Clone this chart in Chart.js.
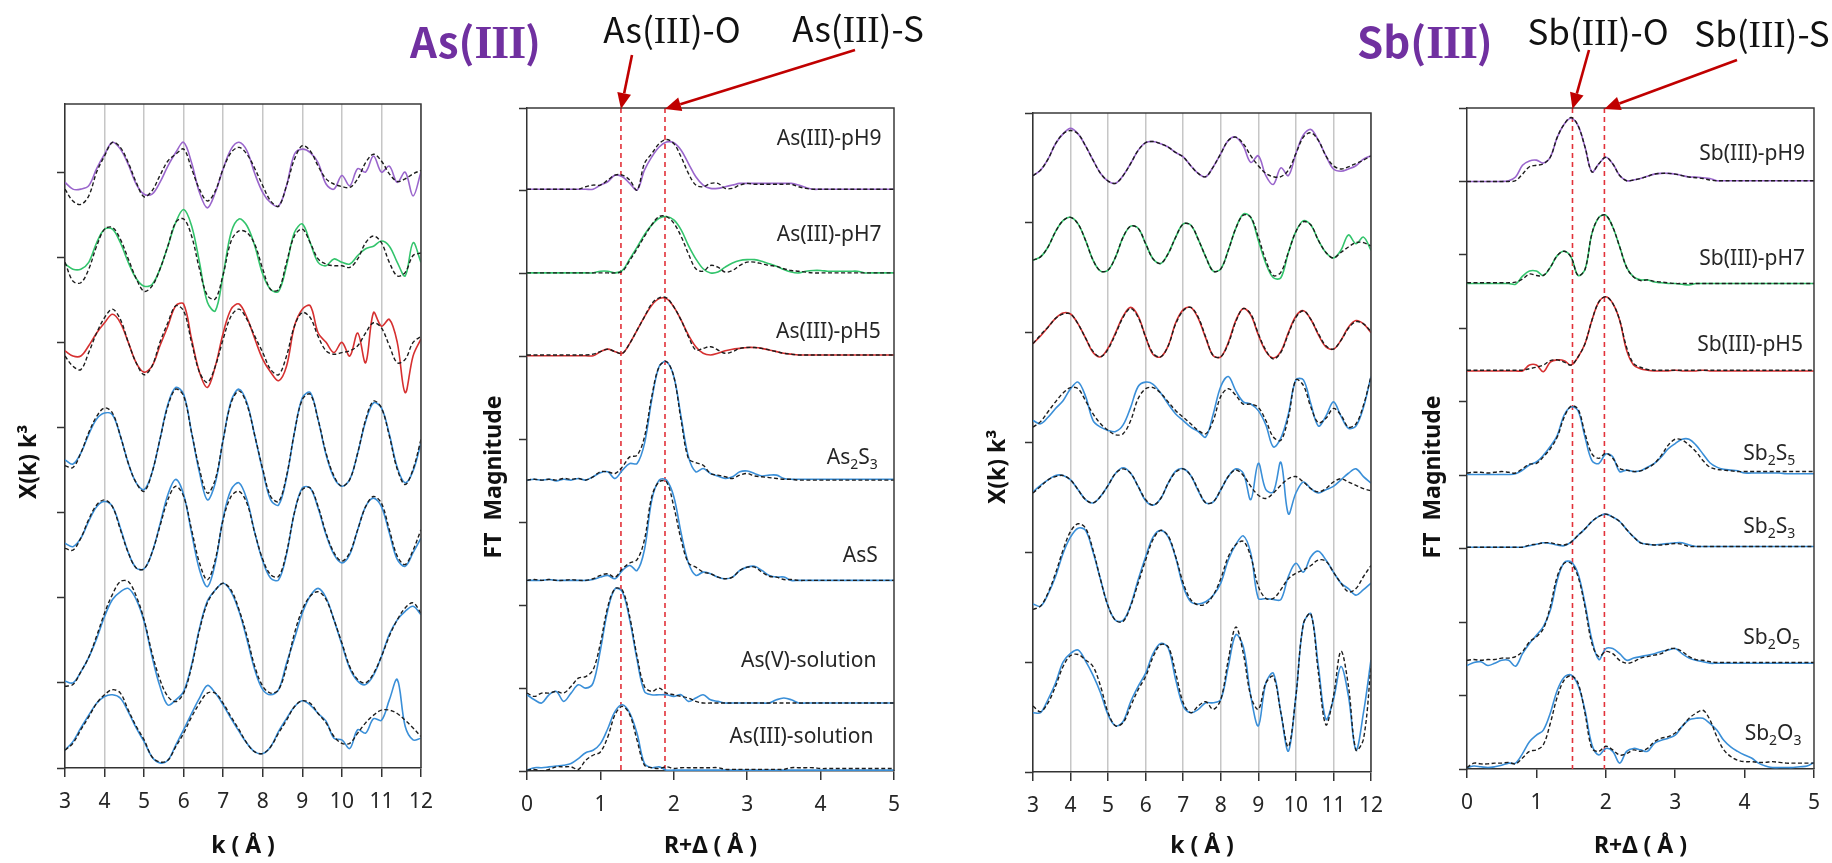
<!DOCTYPE html>
<html>
<head>
<meta charset="utf-8">
<script src="https://cdn.jsdelivr.net/npm/chart.js@4.4.0/dist/chart.umd.min.js"></script>
<style>
  html, body { margin: 0; padding: 0; background: #fff; }
  body { width: 1832px; height: 863px; position: relative; overflow: hidden; }
  canvas { position: absolute; top: 0; }
  .big { position: absolute; top: 19px; font-family: "Noto Sans CJK KR", "Noto Sans", sans-serif;
         font-weight: 700; font-size: 42px; line-height: 42px; color: #7030a0; white-space: nowrap; }
  .big .rn { font-family: "Liberation Serif", serif; font-size: 46px; letter-spacing: -1px; }
</style>
</head>
<body>
<canvas id="asK" width="445" height="863" style="left:0px"></canvas>
<canvas id="asR" width="475" height="863" style="left:460px"></canvas>
<canvas id="sbK" width="435" height="863" style="left:960px"></canvas>
<canvas id="sbR" width="432" height="863" style="left:1400px"></canvas>
<div class="big" style="left:410px">As(<span class="rn">III</span>)</div>
<div class="big" style="left:1357px">Sb(<span class="rn">III</span>)</div>
<script>
// ---- x grids ----
const kGrid = [3.0,3.2,3.4,3.6,3.8,4.0,4.2,4.4,4.6,4.8,5.0,5.2,5.4,5.6,5.8,6.0,6.2,6.4,6.6,6.8,7.0,7.2,7.4,7.6,7.8,
  8.0,8.2,8.4,8.6,8.8,9.0,9.2,9.4,9.6,9.8,10.0,10.2,10.4,10.6,10.8,11.0,11.2,11.4,11.6,11.8,12.0];
const rGrid = [0.0,0.1,0.2,0.3,0.4,0.5,0.6,0.7,0.8,0.9,1.0,1.1,1.2,1.3,1.4,1.5,1.6,1.7,1.8,1.9,2.0,2.1,2.2,2.3,2.4,
  2.5,2.6,2.7,2.8,2.9,3.0,3.1,3.2,3.3,3.4,3.5,3.6,3.7,3.8,3.9,4.0,4.1,4.2,4.3,4.4,4.5,4.6,4.7,4.8,4.9,5.0];

// ---- As(III) chi(k)k^3, stacked ----
const asPh9Data = [6.88,6.80,6.80,6.84,7.04,7.21,7.35,7.27,7.09,6.86,6.74,6.74,6.88,7.07,7.23,7.35,7.11,6.76,6.58,6.76,
  7.04,7.27,7.35,7.25,6.98,6.76,6.64,6.60,6.84,7.21,7.27,7.23,7.11,6.86,6.80,6.96,6.84,7.04,7.00,7.19,7.00,7.07,6.88,7.00,6.72,7.00];
const asPh9Fit = [6.80,6.66,6.62,6.72,7.00,7.19,7.35,7.29,7.11,6.88,6.71,6.78,6.96,7.13,7.21,7.27,7.04,6.80,6.66,6.78,
  7.04,7.23,7.29,7.21,7.04,6.84,6.66,6.60,6.84,7.15,7.31,7.25,7.07,6.92,6.86,6.83,6.82,6.92,7.11,7.21,7.13,6.98,6.89,6.92,6.98,7.02];
const asPh7Data = [5.92,5.86,5.86,5.94,6.17,6.33,6.33,6.17,5.94,5.75,5.66,5.68,5.86,6.13,6.41,6.56,6.37,5.94,5.47,5.37,
  5.80,6.29,6.45,6.37,6.13,5.80,5.62,5.60,5.90,6.29,6.39,6.17,5.94,5.90,5.98,5.94,5.92,6.02,6.10,6.13,6.19,6.13,5.94,5.78,6.17,5.94];
const asPh7Fit = [5.94,5.72,5.70,5.86,6.13,6.33,6.35,6.21,5.98,5.75,5.60,5.66,5.86,6.13,6.41,6.45,6.25,5.86,5.55,5.51,
  5.80,6.19,6.31,6.29,6.15,5.86,5.62,5.62,5.94,6.25,6.33,6.17,5.98,5.92,5.90,5.90,5.88,5.98,6.17,6.25,6.17,5.94,5.78,5.82,6.02,6.05];
const asPh5Data = [4.90,4.84,4.84,4.96,5.11,5.23,5.33,5.23,5.00,4.76,4.65,4.72,4.96,5.19,5.43,5.45,5.04,4.65,4.47,4.72,
  5.11,5.39,5.45,5.29,5.04,4.80,4.65,4.55,4.72,5.19,5.39,5.43,5.11,5.00,4.88,5.00,4.84,5.11,4.76,5.35,5.19,5.27,5.00,4.41,4.84,5.04];
const asPh5Fit = [4.84,4.72,4.68,4.88,5.11,5.29,5.39,5.27,5.00,4.76,4.62,4.72,5.00,5.23,5.43,5.37,5.00,4.65,4.53,4.72,
  5.04,5.31,5.39,5.27,5.07,4.88,4.68,4.62,4.84,5.19,5.35,5.29,5.07,4.90,4.86,4.88,4.90,4.96,5.11,5.23,5.17,4.96,4.76,4.80,5.00,5.07];
const asAs2S3Data = [3.62,3.57,3.70,3.92,4.10,4.17,4.15,3.90,3.58,3.35,3.27,3.47,3.86,4.27,4.47,4.39,3.94,3.47,3.15,3.35,
  3.86,4.31,4.45,4.29,3.90,3.49,3.15,3.09,3.41,3.94,4.35,4.41,4.09,3.68,3.41,3.31,3.39,3.70,4.07,4.29,4.23,3.92,3.53,3.35,3.49,3.82];
const asAs2S3Fit = [3.55,3.53,3.70,3.94,4.13,4.23,4.17,3.90,3.58,3.35,3.25,3.47,3.86,4.25,4.45,4.37,3.94,3.51,3.23,3.39,
  3.86,4.29,4.43,4.27,3.90,3.51,3.19,3.13,3.43,3.94,4.33,4.39,4.09,3.70,3.43,3.31,3.39,3.70,4.09,4.31,4.23,3.90,3.51,3.33,3.51,3.86];
const asAsSData = [2.64,2.60,2.70,2.90,3.07,3.13,3.07,2.82,2.53,2.35,2.34,2.53,2.86,3.21,3.39,3.21,2.76,2.33,2.13,2.41,
  2.94,3.27,3.35,3.15,2.76,2.43,2.23,2.21,2.51,3.00,3.29,3.29,3.05,2.74,2.51,2.41,2.51,2.80,3.07,3.17,3.07,2.76,2.45,2.37,2.53,2.70];
const asAsSFit = [2.58,2.56,2.70,2.92,3.09,3.15,3.07,2.80,2.53,2.35,2.34,2.53,2.84,3.15,3.31,3.19,2.80,2.41,2.21,2.45,
  2.92,3.19,3.25,3.11,2.76,2.45,2.27,2.25,2.53,3.00,3.27,3.29,3.07,2.76,2.53,2.43,2.53,2.80,3.07,3.19,3.11,2.80,2.49,2.39,2.56,2.80];
const asAsVData = [1.02,1.00,1.13,1.30,1.52,1.78,1.98,2.07,2.11,1.98,1.72,1.31,0.96,0.74,0.80,0.90,1.21,1.64,1.96,2.09,
  2.17,2.07,1.84,1.51,1.15,0.92,0.86,0.92,1.23,1.52,1.82,2.02,2.11,2.00,1.74,1.45,1.17,1.02,0.98,1.09,1.31,1.57,1.74,1.84,1.90,1.80];
const asAsVFit = [0.96,0.98,1.13,1.30,1.55,1.82,2.04,2.19,2.19,2.02,1.74,1.35,1.04,0.84,0.78,0.88,1.19,1.62,1.94,2.09,
  2.17,2.09,1.86,1.55,1.19,0.96,0.88,0.92,1.19,1.58,1.86,2.02,2.07,1.98,1.74,1.47,1.19,1.04,1.00,1.11,1.31,1.55,1.74,1.88,1.94,1.82];
const asAsIIIData = [0.21,0.31,0.47,0.62,0.76,0.84,0.86,0.82,0.66,0.47,0.31,0.13,0.06,0.09,0.27,0.45,0.64,0.82,0.97,0.88,
  0.74,0.58,0.43,0.29,0.19,0.17,0.25,0.43,0.58,0.72,0.79,0.74,0.64,0.55,0.35,0.33,0.23,0.45,0.41,0.58,0.56,0.80,1.04,0.49,0.33,0.35];
const asAsIIIFit = [0.21,0.29,0.45,0.60,0.76,0.86,0.92,0.88,0.68,0.49,0.33,0.13,0.07,0.09,0.25,0.41,0.60,0.76,0.88,0.88,
  0.76,0.60,0.45,0.29,0.19,0.17,0.25,0.41,0.56,0.72,0.79,0.76,0.64,0.53,0.37,0.29,0.29,0.41,0.53,0.62,0.68,0.68,0.64,0.56,0.47,0.37];

// ---- As(III) FT magnitude, stacked ----
const asFtPh9Data = [7.02,7.02,7.02,7.02,7.02,7.02,7.02,7.02,7.02,7.02,7.07,7.11,7.19,7.17,7.09,7.01,7.25,7.41,7.53,7.59,
  7.58,7.49,7.33,7.17,7.07,7.03,7.03,7.05,7.07,7.09,7.09,7.09,7.09,7.09,7.09,7.09,7.09,7.07,7.04,7.02,
  7.02,7.02,7.02,7.02,7.02,7.02,7.02,7.02,7.02,7.02,7.02];
const asFtPh9Fit = [7.02,7.02,7.02,7.02,7.02,7.02,7.02,7.02,7.05,7.07,7.07,7.13,7.19,7.19,7.13,7.01,7.33,7.45,7.57,7.62,
  7.57,7.41,7.21,7.07,7.05,7.09,7.09,7.03,7.03,7.07,7.09,7.08,7.08,7.08,7.08,7.08,7.08,7.05,7.03,7.02,
  7.02,7.02,7.02,7.02,7.02,7.02,7.02,7.02,7.02,7.02,7.02];
const asFtPh7Data = [6.01,6.01,6.01,6.01,6.01,6.01,6.01,6.01,6.01,6.01,6.03,6.03,6.01,6.04,6.18,6.32,6.47,6.59,6.67,6.69,
  6.65,6.53,6.34,6.18,6.06,6.01,6.02,6.08,6.13,6.16,6.17,6.17,6.15,6.12,6.09,6.05,6.02,6.01,6.03,6.04,
  6.04,6.03,6.03,6.03,6.03,6.03,6.01,6.01,6.01,6.01,6.01];
const asFtPh7Fit = [6.01,6.01,6.01,6.01,6.01,6.01,6.01,6.01,6.01,6.01,6.01,6.01,6.01,6.03,6.16,6.30,6.45,6.59,6.69,6.69,
  6.61,6.45,6.24,6.06,6.03,6.10,6.08,6.02,6.04,6.10,6.14,6.14,6.12,6.10,6.09,6.06,6.04,6.03,6.02,6.01,
  6.01,6.01,6.01,6.01,6.01,6.01,6.01,6.01,6.01,6.01,6.01];
const asFtPh5Data = [5.01,5.01,5.01,5.01,5.01,5.01,5.01,5.01,5.01,5.01,5.06,5.09,5.06,5.04,5.16,5.32,5.48,5.62,5.70,5.70,
  5.60,5.44,5.26,5.12,5.04,5.02,5.04,5.07,5.09,5.10,5.11,5.11,5.10,5.08,5.06,5.04,5.03,5.02,5.02,5.02,
  5.02,5.02,5.02,5.02,5.02,5.02,5.02,5.02,5.02,5.02,5.02];
const asFtPh5Fit = [5.02,5.02,5.02,5.02,5.02,5.02,5.02,5.02,5.02,5.03,5.06,5.09,5.06,5.04,5.16,5.32,5.48,5.64,5.71,5.71,
  5.60,5.44,5.24,5.08,5.10,5.12,5.08,5.04,5.06,5.10,5.11,5.11,5.10,5.08,5.06,5.04,5.03,5.02,5.02,5.02,
  5.02,5.02,5.02,5.02,5.02,5.02,5.02,5.02,5.02,5.02,5.02];
const asFtAs2S3Data = [3.51,3.52,3.51,3.52,3.50,3.52,3.51,3.53,3.51,3.55,3.60,3.61,3.53,3.63,3.71,3.71,3.95,4.48,4.88,4.94,
  4.76,4.27,3.79,3.61,3.65,3.59,3.56,3.53,3.55,3.61,3.62,3.59,3.56,3.57,3.57,3.53,3.52,3.52,3.52,3.52,
  3.52,3.52,3.52,3.52,3.52,3.52,3.52,3.52,3.52,3.52,3.52];
const asFtAs2S3Fit = [3.51,3.52,3.51,3.52,3.51,3.53,3.52,3.53,3.51,3.55,3.61,3.61,3.59,3.67,3.79,3.81,4.03,4.52,4.88,4.94,
  4.76,4.23,3.77,3.72,3.69,3.59,3.57,3.55,3.53,3.57,3.59,3.56,3.55,3.54,3.53,3.52,3.52,3.51,3.51,3.51,
  3.51,3.51,3.51,3.51,3.51,3.51,3.51,3.51,3.51,3.51,3.51];
const asFtAsSData = [2.30,2.30,2.30,2.31,2.30,2.30,2.30,2.30,2.30,2.31,2.34,2.36,2.32,2.42,2.48,2.42,2.67,3.27,3.51,3.51,
  3.31,2.87,2.51,2.36,2.40,2.38,2.34,2.32,2.34,2.42,2.46,2.47,2.42,2.36,2.34,2.34,2.30,2.30,2.30,2.30,
  2.30,2.30,2.30,2.30,2.30,2.30,2.30,2.30,2.30,2.30,2.30];
const asFtAsSFit = [2.30,2.31,2.30,2.31,2.30,2.30,2.31,2.30,2.30,2.32,2.36,2.38,2.34,2.44,2.51,2.55,2.79,3.31,3.49,3.49,
  3.19,2.79,2.51,2.46,2.40,2.38,2.34,2.32,2.34,2.42,2.46,2.46,2.40,2.35,2.34,2.31,2.31,2.30,2.30,2.30,
  2.30,2.30,2.30,2.30,2.30,2.30,2.30,2.30,2.30,2.30,2.30];
const asFtAsVData = [0.92,0.86,0.82,0.92,0.96,0.84,0.94,1.04,1.00,1.06,1.46,1.94,2.20,2.16,1.82,1.34,0.96,0.92,0.92,0.92,
  0.90,0.92,0.84,0.88,0.92,0.86,0.84,0.82,0.82,0.82,0.82,0.82,0.82,0.82,0.86,0.88,0.86,0.82,0.82,0.82,
  0.82,0.82,0.82,0.82,0.82,0.82,0.82,0.82,0.82,0.82,0.82];
const asFtAsVFit = [0.94,0.90,0.94,0.94,0.96,0.94,1.02,1.12,1.14,1.22,1.54,1.98,2.20,2.18,1.86,1.38,1.02,0.96,1.00,0.94,
  0.92,0.90,0.88,0.84,0.82,0.82,0.82,0.82,0.82,0.82,0.82,0.82,0.82,0.82,0.82,0.82,0.82,0.82,0.82,0.82,
  0.82,0.82,0.82,0.82,0.82,0.82,0.82,0.82,0.82,0.82,0.82];
const asFtAsIIIData = [0.01,0.04,0.04,0.05,0.06,0.07,0.09,0.15,0.22,0.25,0.33,0.51,0.72,0.80,0.70,0.45,0.09,0.04,0.05,0.01,
  0.01,0.01,0.01,0.01,0.01,0.01,0.01,0.01,0.01,0.01,0.01,0.01,0.01,0.01,0.01,0.01,0.01,0.01,0.01,0.01,
  0.01,0.01,0.01,0.01,0.01,0.01,0.01,0.01,0.01,0.01,0.01];
const asFtAsIIIFit = [0.01,0.02,0.00,0.02,0.05,0.05,0.05,0.02,0.13,0.19,0.23,0.41,0.68,0.78,0.68,0.37,0.07,0.04,0.03,0.05,
  0.03,0.04,0.04,0.04,0.04,0.04,0.04,0.02,0.02,0.02,0.02,0.02,0.02,0.02,0.02,0.02,0.04,0.04,0.04,0.04,
  0.03,0.03,0.03,0.03,0.03,0.03,0.03,0.03,0.03,0.03,0.03];

// ---- Sb(III) chi(k)k^3, stacked ----
const sbPh9Data = [5.43,5.48,5.58,5.72,5.81,5.86,5.81,5.70,5.57,5.45,5.38,5.36,5.43,5.54,5.66,5.73,5.74,5.72,5.69,5.64,
  5.60,5.52,5.45,5.42,5.51,5.63,5.75,5.78,5.70,5.55,5.61,5.43,5.35,5.50,5.43,5.63,5.80,5.85,5.75,5.61,5.49,5.47,5.49,5.52,5.58,5.61];
const sbPh9Fit = [5.43,5.48,5.58,5.72,5.81,5.84,5.81,5.70,5.57,5.45,5.38,5.36,5.43,5.54,5.66,5.73,5.74,5.72,5.69,5.64,
  5.60,5.52,5.45,5.42,5.51,5.63,5.75,5.78,5.72,5.61,5.52,5.45,5.42,5.42,5.48,5.63,5.78,5.82,5.75,5.61,5.52,5.49,5.51,5.54,5.57,5.61];
const sbPh7Data = [4.66,4.69,4.78,4.92,5.02,5.05,4.99,4.84,4.66,4.56,4.57,4.69,4.87,4.97,4.95,4.81,4.67,4.63,4.72,4.87,
  4.99,4.98,4.85,4.69,4.56,4.58,4.75,4.95,5.08,5.05,4.84,4.63,4.50,4.50,4.73,4.92,5.02,4.98,4.84,4.73,4.68,4.75,4.89,4.81,4.87,4.75];
const sbPh7Fit = [4.66,4.69,4.78,4.92,5.02,5.05,4.99,4.84,4.66,4.56,4.57,4.69,4.87,4.97,4.95,4.81,4.67,4.63,4.72,4.87,
  4.99,4.98,4.85,4.69,4.56,4.58,4.75,4.95,5.07,5.05,4.87,4.66,4.52,4.55,4.73,4.92,5.01,4.98,4.84,4.73,4.68,4.73,4.78,4.82,4.82,4.79];
const sbPh5Data = [3.90,3.97,4.05,4.13,4.18,4.17,4.08,3.95,3.82,3.78,3.86,4.00,4.15,4.23,4.15,3.96,3.80,3.78,3.88,4.09,
  4.21,4.23,4.13,3.95,3.79,3.78,3.91,4.11,4.22,4.16,3.98,3.83,3.77,3.83,4.00,4.15,4.20,4.12,3.98,3.87,3.85,3.93,4.05,4.11,4.08,4.00];
const sbPh5Fit = [3.90,3.98,4.05,4.13,4.17,4.17,4.08,3.95,3.83,3.78,3.85,3.99,4.14,4.22,4.14,3.96,3.81,3.78,3.88,4.08,
  4.20,4.23,4.14,3.96,3.79,3.78,3.90,4.10,4.22,4.17,3.99,3.84,3.76,3.82,3.99,4.14,4.20,4.12,3.99,3.88,3.85,3.93,4.04,4.10,4.08,4.01];
const sbSb2S5Data = [3.20,3.17,3.23,3.31,3.38,3.49,3.55,3.42,3.20,3.14,3.11,3.10,3.16,3.32,3.51,3.55,3.53,3.45,3.35,3.26,
  3.20,3.14,3.10,3.05,3.26,3.51,3.60,3.47,3.37,3.35,3.29,3.16,2.96,3.04,3.26,3.57,3.57,3.35,3.15,3.24,3.37,3.24,3.13,3.15,3.32,3.60];
const sbSb2S5Fit = [3.14,3.19,3.28,3.37,3.45,3.50,3.49,3.38,3.26,3.17,3.11,3.07,3.08,3.20,3.40,3.49,3.50,3.45,3.37,3.29,
  3.23,3.17,3.11,3.08,3.20,3.42,3.49,3.43,3.35,3.35,3.32,3.20,3.05,3.02,3.23,3.57,3.52,3.32,3.18,3.22,3.31,3.25,3.14,3.17,3.34,3.60];
const sbSb2S3Data = [2.55,2.61,2.66,2.70,2.70,2.66,2.57,2.48,2.45,2.51,2.61,2.72,2.77,2.72,2.60,2.47,2.43,2.49,2.63,2.74,
  2.76,2.70,2.56,2.45,2.46,2.57,2.69,2.76,2.72,2.48,2.81,2.57,2.55,2.82,2.35,2.54,2.64,2.58,2.54,2.57,2.60,2.66,2.72,2.76,2.69,2.63];
const sbSb2S3Fit = [2.54,2.60,2.66,2.69,2.70,2.66,2.57,2.48,2.45,2.51,2.61,2.72,2.76,2.72,2.60,2.48,2.43,2.49,2.63,2.73,
  2.76,2.70,2.57,2.45,2.46,2.57,2.69,2.75,2.70,2.60,2.52,2.49,2.54,2.61,2.67,2.69,2.64,2.58,2.55,2.58,2.64,2.67,2.64,2.61,2.58,2.56];
const sbSb2O5Data = [1.53,1.51,1.62,1.78,1.99,2.14,2.22,2.20,2.00,1.75,1.51,1.38,1.38,1.52,1.75,1.96,2.14,2.20,2.14,1.95,
  1.69,1.55,1.53,1.55,1.61,1.72,1.93,2.07,2.15,1.99,1.58,1.58,1.57,1.57,1.78,1.90,1.82,1.96,2.01,1.93,1.82,1.72,1.67,1.61,1.66,1.72];
const sbSb2O5Fit = [1.48,1.51,1.63,1.81,2.02,2.19,2.26,2.22,2.02,1.75,1.51,1.38,1.37,1.51,1.72,1.93,2.12,2.20,2.15,1.96,
  1.72,1.57,1.52,1.53,1.61,1.76,1.96,2.07,2.10,1.96,1.69,1.58,1.58,1.66,1.76,1.81,1.84,1.88,1.93,1.92,1.82,1.72,1.64,1.67,1.78,1.88];
const sbSb2O3Data = [0.54,0.54,0.66,0.81,1.00,1.08,1.11,1.01,0.88,0.72,0.52,0.42,0.46,0.64,0.78,0.90,1.08,1.17,1.13,0.84,
  0.60,0.54,0.57,0.63,0.63,0.66,0.96,1.25,1.14,0.69,0.42,0.81,0.90,0.54,0.19,0.69,1.35,1.44,0.96,0.48,0.66,0.96,0.69,0.20,0.54,1.02];
const sbSb2O3Fit = [0.60,0.55,0.63,0.78,0.96,1.06,1.07,1.02,0.96,0.78,0.54,0.42,0.45,0.60,0.75,0.87,1.05,1.16,1.14,0.90,
  0.63,0.54,0.60,0.64,0.57,0.66,1.02,1.32,1.08,0.69,0.57,0.81,0.87,0.54,0.23,0.69,1.35,1.44,0.90,0.43,0.69,1.10,0.78,0.20,0.30,0.96];

// ---- Sb(III) FT magnitude, stacked ----
const sbFtPh9Data = [8.00,8.00,8.00,8.00,8.00,8.00,8.01,8.06,8.22,8.28,8.29,8.25,8.33,8.60,8.78,8.86,8.76,8.47,8.13,8.24,
  8.33,8.24,8.08,8.01,8.02,8.04,8.07,8.10,8.11,8.11,8.10,8.08,8.06,8.06,8.05,8.04,8.01,8.01,8.01,8.01,
  8.01,8.01,8.01,8.01,8.01,8.01,8.01,8.01,8.01,8.01,8.01];
const sbFtPh9Fit = [8.00,8.00,8.00,8.00,8.00,8.00,8.00,8.01,8.10,8.20,8.22,8.24,8.33,8.60,8.78,8.87,8.76,8.47,8.13,8.24,
  8.33,8.24,8.08,8.01,8.02,8.04,8.07,8.10,8.11,8.11,8.10,8.08,8.06,8.05,8.04,8.02,8.01,8.01,8.01,8.01,
  8.01,8.01,8.01,8.01,8.01,8.01,8.01,8.01,8.01,8.01,8.01];
const sbFtPh7Data = [6.61,6.61,6.61,6.61,6.61,6.61,6.61,6.60,6.71,6.78,6.78,6.72,6.83,6.99,7.05,6.97,6.72,6.80,7.29,7.51,
  7.54,7.38,7.11,6.83,6.70,6.66,6.66,6.63,6.62,6.61,6.61,6.60,6.59,6.61,6.61,6.61,6.61,6.61,6.61,6.61,
  6.61,6.61,6.61,6.61,6.61,6.61,6.61,6.61,6.61,6.61,6.61];
const sbFtPh7Fit = [6.62,6.62,6.62,6.62,6.62,6.62,6.62,6.63,6.67,6.74,6.72,6.72,6.83,6.99,7.05,6.97,6.72,6.80,7.29,7.51,
  7.54,7.38,7.11,6.83,6.70,6.65,6.66,6.64,6.63,6.62,6.61,6.61,6.61,6.61,6.61,6.61,6.61,6.61,6.61,6.61,
  6.61,6.61,6.61,6.61,6.61,6.61,6.61,6.61,6.61,6.61,6.61];
const sbFtPh5Data = [5.42,5.42,5.42,5.42,5.42,5.42,5.42,5.42,5.42,5.50,5.50,5.41,5.54,5.57,5.56,5.50,5.61,5.79,6.11,6.36,
  6.43,6.34,6.11,5.70,5.50,5.45,5.43,5.42,5.42,5.42,5.43,5.42,5.42,5.42,5.43,5.42,5.42,5.42,5.42,5.42,
  5.42,5.42,5.42,5.42,5.42,5.42,5.42,5.42,5.42,5.42,5.42];
const sbFtPh5Fit = [5.43,5.43,5.43,5.43,5.43,5.43,5.43,5.43,5.43,5.45,5.47,5.50,5.56,5.57,5.54,5.50,5.61,5.79,6.11,6.36,
  6.43,6.34,6.11,5.74,5.52,5.47,5.44,5.43,5.43,5.43,5.43,5.43,5.43,5.43,5.43,5.43,5.43,5.43,5.43,5.43,
  5.43,5.43,5.43,5.43,5.43,5.43,5.43,5.43,5.43,5.43,5.43];
const sbFtSb2S5Data = [4.01,4.01,4.01,4.01,4.01,4.01,4.01,4.02,4.07,4.14,4.18,4.27,4.39,4.54,4.82,4.93,4.88,4.52,4.20,4.16,
  4.29,4.25,4.05,4.07,4.05,4.06,4.11,4.16,4.25,4.36,4.43,4.49,4.49,4.41,4.29,4.17,4.11,4.08,4.07,4.06,
  4.03,4.03,4.03,4.03,4.03,4.03,4.02,4.02,4.02,4.02,4.02];
const sbFtSb2S5Fit = [4.03,4.04,4.04,4.03,4.04,4.05,4.04,4.03,4.09,4.15,4.16,4.25,4.36,4.52,4.79,4.94,4.90,4.57,4.29,4.23,
  4.30,4.23,4.09,4.07,4.05,4.06,4.10,4.16,4.27,4.41,4.49,4.48,4.41,4.32,4.20,4.11,4.08,4.07,4.06,4.05,
  4.05,4.05,4.05,4.05,4.05,4.05,4.05,4.05,4.05,4.05,4.05];
const sbFtSb2S3Data = [3.02,3.02,3.02,3.02,3.02,3.02,3.02,3.02,3.02,3.04,3.06,3.08,3.07,3.05,3.04,3.09,3.18,3.27,3.37,3.44,
  3.47,3.43,3.37,3.26,3.16,3.08,3.06,3.05,3.06,3.07,3.08,3.08,3.05,3.03,3.03,3.03,3.03,3.03,3.03,3.03,
  3.03,3.03,3.03,3.03,3.03,3.03,3.03,3.03,3.03,3.03,3.03];
const sbFtSb2S3Fit = [3.02,3.02,3.02,3.02,3.02,3.02,3.02,3.02,3.02,3.05,3.06,3.08,3.08,3.06,3.05,3.09,3.18,3.27,3.37,3.44,
  3.47,3.43,3.37,3.26,3.16,3.08,3.06,3.05,3.05,3.06,3.07,3.06,3.03,3.03,3.03,3.03,3.03,3.03,3.03,3.03,
  3.03,3.03,3.03,3.03,3.03,3.03,3.03,3.03,3.03,3.03,3.03];
const sbFtSb2O5Data = [1.41,1.45,1.46,1.41,1.44,1.48,1.48,1.40,1.57,1.71,1.82,1.94,2.16,2.57,2.81,2.82,2.66,2.25,1.76,1.49,
  1.64,1.64,1.57,1.48,1.51,1.53,1.55,1.57,1.60,1.62,1.64,1.57,1.51,1.48,1.46,1.44,1.44,1.44,1.44,1.44,
  1.44,1.44,1.44,1.44,1.44,1.44,1.44,1.44,1.44,1.44,1.44];
const sbFtSb2O5Fit = [1.48,1.49,1.48,1.49,1.49,1.51,1.51,1.53,1.60,1.73,1.80,1.91,2.21,2.62,2.80,2.80,2.62,2.21,1.71,1.53,
  1.60,1.57,1.48,1.44,1.46,1.51,1.53,1.55,1.57,1.63,1.64,1.60,1.53,1.49,1.48,1.46,1.45,1.45,1.45,1.45,
  1.45,1.45,1.45,1.45,1.45,1.45,1.45,1.45,1.45,1.45,1.45];
const sbFtSb2O3Data = [0.02,0.04,0.03,0.02,0.03,0.05,0.08,0.08,0.21,0.37,0.46,0.53,0.76,1.07,1.25,1.28,1.14,0.80,0.33,0.19,
  0.28,0.24,0.08,0.24,0.28,0.26,0.24,0.35,0.39,0.42,0.46,0.58,0.67,0.69,0.69,0.62,0.53,0.39,0.30,0.24,
  0.19,0.15,0.08,0.04,0.02,0.02,0.02,0.02,0.03,0.04,0.09];
const sbFtSb2O3Fit = [0.02,0.08,0.07,0.07,0.08,0.08,0.09,0.07,0.15,0.24,0.26,0.33,0.62,0.98,1.21,1.27,1.17,0.76,0.28,0.24,
  0.31,0.26,0.19,0.21,0.26,0.24,0.28,0.37,0.42,0.44,0.49,0.58,0.69,0.76,0.80,0.67,0.44,0.26,0.17,0.12,
  0.10,0.10,0.09,0.09,0.10,0.09,0.08,0.08,0.08,0.08,0.08];

// bond-distance markers (R + delta)
const asMarkers = [1.28, 1.88];
const sbMarkers = [1.52, 1.98];

const PURPLE = '#9a66cc', GREEN = '#33c46c', RED = '#d63030', BLUE = '#3a8fd8';
const TXT = '#262626';
const SANS = '"Noto Sans CJK KR", "Noto Sans", sans-serif';
const SERIF = '"Liberation Serif", serif';

function pts(xs, ys) {
  return xs.map((x, i) => ({ x: x, y: ys[i] }));
}
function dataLine(xs, ys, color) {
  return { data: pts(xs, ys), borderColor: color, borderWidth: 1.6, pointRadius: 0, tension: 0.35, order: 1 };
}
function fitLine(xs, ys) {
  return { data: pts(xs, ys), borderColor: '#1c1c1c', borderWidth: 1.4, borderDash: [4, 2.5],
           pointRadius: 0, tension: 0.35, order: 0 };
}

// label text with optional subscripts, right aligned at (xr, ym)
function drawLabel(ctx, parts, xr, ym) {
  const main = '21px "Noto Sans", sans-serif', sub = '14px "Noto Sans", sans-serif';
  let w = 0;
  parts.forEach(p => { ctx.font = p[1] ? sub : main; w += ctx.measureText(p[0]).width; });
  let x = xr - w;
  ctx.textAlign = 'left';
  ctx.textBaseline = 'alphabetic';
  parts.forEach(p => {
    ctx.font = p[1] ? sub : main;
    ctx.fillText(p[0], x, ym + 7.5 + (p[1] ? 5 : 0));
    x += ctx.measureText(p[0]).width;
  });
}

// mixed-font text run centred on cx, baseline by
function drawRun(ctx, parts, cx, by) {
  let w = 0;
  parts.forEach(p => { ctx.font = p[1]; w += ctx.measureText(p[0]).width; });
  let x = cx - w / 2;
  ctx.textAlign = 'left'; ctx.textBaseline = 'alphabetic';
  parts.forEach(p => { ctx.font = p[1]; ctx.fillText(p[0], x, by); x += ctx.measureText(p[0]).width; });
}

function arrow(ctx, x0, y0, x1, y1) {
  const ang = Math.atan2(y1 - y0, x1 - x0), hl = 16, hw = 7;
  const bx = x1 - hl * Math.cos(ang), by = y1 - hl * Math.sin(ang);
  ctx.beginPath(); ctx.moveTo(x0, y0); ctx.lineTo(bx, by); ctx.stroke();
  ctx.beginPath();
  ctx.moveTo(x1, y1);
  ctx.lineTo(bx + hw * Math.sin(ang), by - hw * Math.cos(ang));
  ctx.lineTo(bx - hw * Math.sin(ang), by + hw * Math.cos(ang));
  ctx.closePath(); ctx.fill();
}

function decor(cfg) {
  return {
    id: 'decor',
    beforeDatasetsDraw(chart) {
      if (!cfg.markers) return;
      const { ctx, chartArea: a, scales: { x } } = chart;
      ctx.save();
      ctx.strokeStyle = '#e2323a'; ctx.lineWidth = 1.6; ctx.setLineDash([5, 4]);
      cfg.markers.forEach(r => {
        const px = x.getPixelForValue(r);
        ctx.beginPath(); ctx.moveTo(px, a.top); ctx.lineTo(px, a.bottom); ctx.stroke();
      });
      ctx.restore();
    },
    afterDraw(chart) {
      const { ctx, chartArea: a, scales: { x, y } } = chart;
      ctx.save();
      // frame top / right
      ctx.strokeStyle = '#3a3a3a'; ctx.lineWidth = 1.5;
      ctx.beginPath(); ctx.moveTo(a.left, a.top); ctx.lineTo(a.right, a.top); ctx.lineTo(a.right, a.bottom); ctx.stroke();
      // axis titles
      ctx.fillStyle = '#111';
      ctx.font = 'bold 23px "Noto Sans", sans-serif';
      ctx.textAlign = 'center'; ctx.textBaseline = 'middle';
      ctx.fillText(cfg.xTitle, (a.left + a.right) / 2, 846);
      ctx.save();
      ctx.translate(cfg.yTitleX, cfg.yTitleY); ctx.rotate(-Math.PI / 2);
      ctx.fillText(cfg.yTitle, 0, 0);
      ctx.restore();
      // curve labels
      ctx.fillStyle = TXT;
      (cfg.labels || []).forEach(l => drawLabel(ctx, l.parts, x.getPixelForValue(l.x), y.getPixelForValue(l.y)));
      // annotations with arrows
      (cfg.notes || []).forEach(n => {
        ctx.fillStyle = '#111';
        drawRun(ctx, [[n.pre, '35px ' + SANS], ['III', '37px ' + SERIF], [n.post, '35px ' + SANS]], n.tx, n.ty);
        ctx.strokeStyle = '#c00000'; ctx.fillStyle = '#c00000'; ctx.lineWidth = 2.6;
        arrow(ctx, n.ax, n.ay, x.getPixelForValue(n.r), a.top + 1);
      });
      ctx.restore();
    }
  };
}

function makeChart(id, o) {
  return new Chart(document.getElementById(id), {
    type: 'line',
    data: { datasets: o.datasets },
    options: {
      responsive: false, animation: false, devicePixelRatio: 1,
      layout: { padding: { top: o.top, right: o.right, left: 0, bottom: 0 } },
      plugins: { legend: { display: false }, tooltip: { enabled: false } },
      scales: {
        x: {
          type: 'linear', min: o.xMin, max: o.xMax,
          ticks: { stepSize: 1, color: TXT, padding: 12, font: { family: 'Noto Sans', size: 21 } },
          grid: { drawOnChartArea: o.grid, color: '#c6c6c6', lineWidth: 1.5, tickLength: 9, tickColor: '#333', tickWidth: 1.5 },
          border: { color: '#333', width: 1.5 },
          afterFit: s => { s.height = o.xh; }
        },
        y: {
          min: 0, max: o.yMax,
          ticks: { display: false, stepSize: 1, includeBounds: false },
          grid: { drawOnChartArea: false, tickLength: 8, tickColor: '#333', tickWidth: 1.5 },
          border: { color: '#333', width: 1.5 },
          afterFit: s => { s.width = o.yw; }
        }
      }
    },
    plugins: [decor(o.decor)]
  });
}

makeChart('asK', {
  datasets: [
    fitLine(kGrid, asPh9Fit), fitLine(kGrid, asPh7Fit), fitLine(kGrid, asPh5Fit), fitLine(kGrid, asAs2S3Fit),
    fitLine(kGrid, asAsSFit), fitLine(kGrid, asAsVFit), fitLine(kGrid, asAsIIIFit),
    dataLine(kGrid, asPh9Data, PURPLE), dataLine(kGrid, asPh7Data, GREEN), dataLine(kGrid, asPh5Data, RED),
    dataLine(kGrid, asAs2S3Data, BLUE), dataLine(kGrid, asAsSData, BLUE), dataLine(kGrid, asAsVData, BLUE),
    dataLine(kGrid, asAsIIIData, BLUE)
  ],
  xMin: 3, xMax: 12, yMax: 7.8, top: 104, right: 13, xh: 95, yw: 65, grid: true,
  decor: { xTitle: 'k ( Å )', yTitle: 'X(k) k³', yTitleX: 29, yTitleY: 462 }
});

makeChart('asR', {
  datasets: [
    fitLine(rGrid, asFtPh9Fit), fitLine(rGrid, asFtPh7Fit), fitLine(rGrid, asFtPh5Fit), fitLine(rGrid, asFtAs2S3Fit),
    fitLine(rGrid, asFtAsSFit), fitLine(rGrid, asFtAsVFit), fitLine(rGrid, asFtAsIIIFit),
    dataLine(rGrid, asFtPh9Data, PURPLE), dataLine(rGrid, asFtPh7Data, GREEN), dataLine(rGrid, asFtPh5Data, RED),
    dataLine(rGrid, asFtAs2S3Data, BLUE), dataLine(rGrid, asFtAsSData, BLUE), dataLine(rGrid, asFtAsVData, BLUE),
    dataLine(rGrid, asFtAsIIIData, BLUE)
  ],
  xMin: 0, xMax: 5, yMax: 8, top: 108, right: 41, xh: 92, yw: 67, grid: false,
  decor: {
    xTitle: 'R+Δ ( Å )', yTitle: 'FT  Magnitude', yTitleX: 34, yTitleY: 477, markers: asMarkers,
    labels: [
      { parts: [['As(III)-pH9', 0]], x: 4.83, y: 7.65 },
      { parts: [['As(III)-pH7', 0]], x: 4.83, y: 6.49 },
      { parts: [['As(III)-pH5', 0]], x: 4.82, y: 5.32 },
      { parts: [['As', 0], ['2', 1], ['S', 0], ['3', 1]], x: 4.78, y: 3.79 },
      { parts: [['AsS', 0]], x: 4.78, y: 2.61 },
      { parts: [['As(V)-solution', 0]], x: 4.76, y: 1.35 },
      { parts: [['As(III)-solution', 0]], x: 4.72, y: 0.43 }
    ],
    notes: [
      { pre: 'As(', post: ')-O', tx: 212, ty: 43, ax: 172, ay: 55, r: asMarkers[0] },
      { pre: 'As(', post: ')-S', tx: 398, ty: 42, ax: 395, ay: 50, r: asMarkers[1] }
    ]
  }
});

makeChart('sbK', {
  datasets: [
    fitLine(kGrid, sbPh9Fit), fitLine(kGrid, sbPh7Fit), fitLine(kGrid, sbPh5Fit), fitLine(kGrid, sbSb2S5Fit),
    fitLine(kGrid, sbSb2S3Fit), fitLine(kGrid, sbSb2O5Fit), fitLine(kGrid, sbSb2O3Fit),
    dataLine(kGrid, sbPh9Data, PURPLE), dataLine(kGrid, sbPh7Data, GREEN), dataLine(kGrid, sbPh5Data, RED),
    dataLine(kGrid, sbSb2S5Data, BLUE), dataLine(kGrid, sbSb2S3Data, BLUE), dataLine(kGrid, sbSb2O5Data, BLUE),
    dataLine(kGrid, sbSb2O3Data, BLUE)
  ],
  xMin: 3, xMax: 12, yMax: 6, top: 113, right: 14, xh: 91, yw: 73, grid: true,
  decor: { xTitle: 'k ( Å )', yTitle: 'X(k) k³', yTitleX: 38, yTitleY: 467 }
});

makeChart('sbR', {
  datasets: [
    fitLine(rGrid, sbFtPh9Fit), fitLine(rGrid, sbFtPh7Fit), fitLine(rGrid, sbFtPh5Fit), fitLine(rGrid, sbFtSb2S5Fit),
    fitLine(rGrid, sbFtSb2S3Fit), fitLine(rGrid, sbFtSb2O5Fit), fitLine(rGrid, sbFtSb2O3Fit),
    dataLine(rGrid, sbFtPh9Data, PURPLE), dataLine(rGrid, sbFtPh7Data, GREEN), dataLine(rGrid, sbFtPh5Data, RED),
    dataLine(rGrid, sbFtSb2S5Data, BLUE), dataLine(rGrid, sbFtSb2S3Data, BLUE), dataLine(rGrid, sbFtSb2O5Data, BLUE),
    dataLine(rGrid, sbFtSb2O3Data, BLUE)
  ],
  xMin: 0, xMax: 5, yMax: 9, top: 108, right: 8, xh: 94, yw: 67, grid: false,
  decor: {
    xTitle: 'R+Δ ( Å )', yTitle: 'FT  Magnitude', yTitleX: 33, yTitleY: 477, markers: sbMarkers,
    labels: [
      { parts: [['Sb(III)-pH9', 0]], x: 4.87, y: 8.39 },
      { parts: [['Sb(III)-pH7', 0]], x: 4.87, y: 6.97 },
      { parts: [['Sb(III)-pH5', 0]], x: 4.84, y: 5.80 },
      { parts: [['Sb', 0], ['2', 1], ['S', 0], ['5', 1]], x: 4.73, y: 4.31 },
      { parts: [['Sb', 0], ['2', 1], ['S', 0], ['3', 1]], x: 4.73, y: 3.32 },
      { parts: [['Sb', 0], ['2', 1], ['O', 0], ['5', 1]], x: 4.80, y: 1.80 },
      { parts: [['Sb', 0], ['2', 1], ['O', 0], ['3', 1]], x: 4.82, y: 0.50 }
    ],
    notes: [
      { pre: 'Sb(', post: ')-O', tx: 198, ty: 45, ax: 189, ay: 50, r: sbMarkers[0] },
      { pre: 'Sb(', post: ')-S', tx: 362, ty: 47, ax: 337, ay: 60, r: sbMarkers[1] }
    ]
  }
});
</script>
</body>
</html>
